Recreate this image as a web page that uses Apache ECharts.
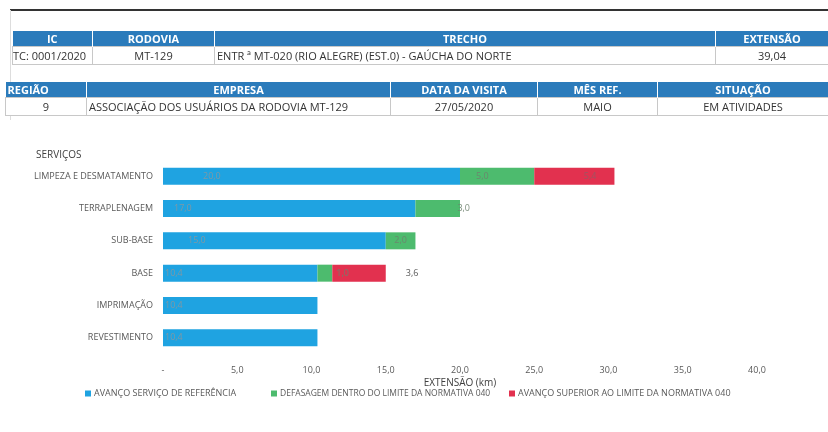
<!DOCTYPE html>
<html><head><meta charset="utf-8">
<script src="https://cdn.jsdelivr.net/npm/echarts@6/dist/echarts.min.js"></script>
<style>
html,body{margin:0;padding:0;background:#fff;width:828px;height:432px;overflow:hidden;font-family:"Open Sans",sans-serif;}
#chart{position:absolute;left:0;top:0;width:828px;height:432px;}
.t{position:absolute;border-collapse:collapse;table-layout:fixed;font-size:11px;color:#333;}
.t td{padding:0;text-align:center;white-space:nowrap;overflow:hidden;}
.t tr.h td{background:#2b7bbb;color:#fff;font-weight:bold;height:15px;border-right:1px solid #fff;}
.t tr.d td{height:17px;border:1px solid #c8c8c8;background:#fff;}
.topline{position:absolute;left:10px;top:9px;width:818px;height:2px;background:#333;}
.leftline{position:absolute;left:10px;top:10px;width:1px;height:110px;background:#ddd;}
</style></head>
<body>
<div id="chart"></div>
<div class="topline"></div>
<div class="leftline"></div>
<table class="t" style="left:12px;top:31px;width:816px">
<colgroup><col style="width:80px"><col style="width:122px"><col style="width:501px"><col style="width:113px"></colgroup>
<tr class="h"><td>IC</td><td>RODOVIA</td><td>TRECHO</td><td>EXTENSÃO</td></tr>
<tr class="d"><td style="text-align:left">TC: 0001/2020</td><td>MT-129</td><td style="text-align:left;padding-left:2px">ENTR ª MT-020 (RIO ALEGRE) (EST.0) - GAÚCHA DO NORTE</td><td>39,04</td></tr>
</table>
<table class="t" style="left:5px;top:82px;width:823px">
<colgroup><col style="width:81px"><col style="width:304px"><col style="width:147px"><col style="width:120px"><col style="width:171px"></colgroup>
<tr class="h"><td style="text-align:left;padding-left:2px">REGIÃO</td><td>EMPRESA</td><td>DATA DA VISITA</td><td>MÊS REF.</td><td>SITUAÇÃO</td></tr>
<tr class="d"><td>9</td><td style="text-align:left;padding-left:2px">ASSOCIAÇÃO DOS USUÁRIOS DA RODOVIA MT-129</td><td>27/05/2020</td><td>MAIO</td><td>EM ATIVIDADES</td></tr>
</table>
<script>
const categories = ['LIMPEZA E DESMATAMENTO','TERRAPLENAGEM','SUB-BASE','BASE','IMPRIMAÇÃO','REVESTIMENTO'];
const referencia = [20.0, 17.0, 15.0, 10.4, 10.4, 10.4];
const defasagem = [5.0, 3.0, 2.0, 1.0, null, null];
const superior = [5.4, null, null, 3.6, null, null];
const seriesNames = ['AVANÇO SERVIÇO DE REFERÊNCIA','DEFASAGEM DENTRO DO LIMITE DA NORMATIVA 040','AVANÇO SUPERIOR AO LIMITE DA NORMATIVA 040'];
const xTicks = [0,5,10,15,20,25,30,35,40];

const FONT = '"Open Sans",sans-serif';
const fmt = v => v.toFixed(1).replace('.', ',');
const blueDx = [40, 11, 25, 2, 2, 2];
const legendLeft = [80, 266, 504];
const legendFont = [9, 8.5, 9];

function build(values, labelFor) {
  return values.map((v, i) => {
    if (v == null) return null;
    const item = { value: v };
    const l = labelFor(i);
    if (l) item.label = l;
    return item;
  });
}

const chart = echarts.init(document.getElementById('chart'), null, {renderer:'canvas'});
chart.setOption({
  animation: false,
  title: { text: 'SERVIÇOS', left: 31, top: 145, textStyle: { fontSize: 10, fontWeight: 'normal', color: '#404040', fontFamily: FONT } },
  grid: { left: 163, right: 71, top: 160, bottom: 78, containLabel: false },
  legend: seriesNames.map((n, i) => ({
    bottom: 29, left: legendLeft[i], itemWidth: 6, itemHeight: 6, icon: 'rect',
    textStyle: { fontSize: legendFont[i], color: '#595959', fontFamily: FONT, padding: [0,0,0,-2] },
    data: [n]
  })),
  xAxis: {
    type: 'value', min: 0, max: 40, interval: 5,
    name: 'EXTENSÃO (km)', nameLocation: 'middle', nameGap: 24,
    nameTextStyle: { fontSize: 10, color: '#404040', fontFamily: FONT },
    axisLine: { show: false }, axisTick: { show: false }, splitLine: { show: false },
    axisLabel: { fontSize: 9, color: '#595959', fontFamily: FONT, margin: 12,
      formatter: v => xTicks.indexOf(v) >= 0 ? (v === 0 ? '-' : fmt(v)) : '' }
  },
  yAxis: {
    type: 'category', data: categories, inverse: true,
    axisLine: { show: false }, axisTick: { show: false },
    axisLabel: { fontSize: 9, color: '#595959', fontFamily: FONT, margin: 10 }
  },
  series: [
    { name: seriesNames[0], type: 'bar', stack: 's', barWidth: 17,
      itemStyle: { color: '#1fa3e1' },
      label: { show: true, position: 'insideLeft', fontSize: 9, color: 'rgba(150,150,150,0.8)', fontFamily: FONT, formatter: p => fmt(p.value) },
      data: build(referencia, i => ({ distance: blueDx[i] })) },
    { name: seriesNames[1], type: 'bar', stack: 's', barWidth: 17,
      itemStyle: { color: '#4dbb6e' },
      label: { show: true, position: 'insideLeft', distance: 16, fontSize: 9, color: 'rgba(110,130,110,0.9)', fontFamily: FONT, formatter: p => fmt(p.value) },
      data: build(defasagem, i => i === 1 ? { position: 'insideRight', distance: -10 } : i === 2 ? { position: 'inside' } : i === 3 ? { position: 'right', distance: 4 } : null) },
    { name: seriesNames[2], type: 'bar', stack: 's', barWidth: 17,
      itemStyle: { color: '#e2314f' },
      label: { show: true, position: 'insideRight', distance: 18, fontSize: 9, color: 'rgba(150,90,100,0.9)', fontFamily: FONT, formatter: p => fmt(p.value) },
      data: build(superior, i => i === 3 ? { position: 'right', distance: 20, color: '#595959' } : null) }
  ]
});
</script>
</body></html>
